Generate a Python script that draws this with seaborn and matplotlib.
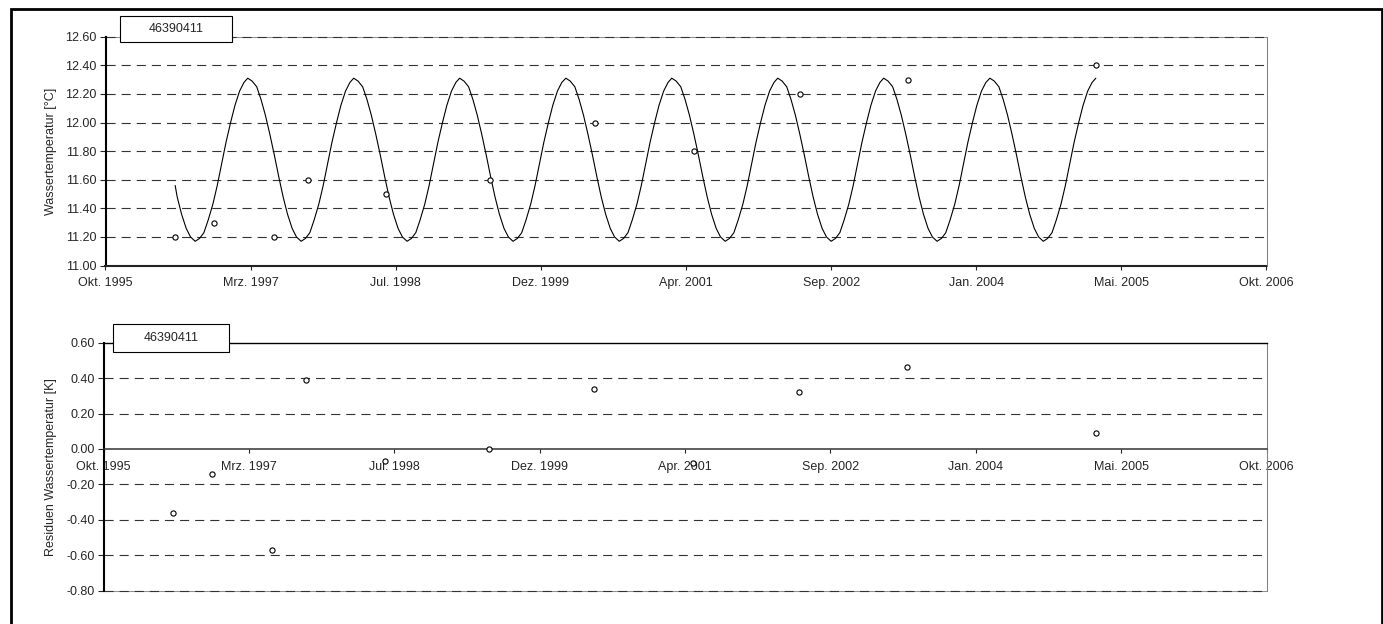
import numpy as np
import pandas as pd
import matplotlib
matplotlib.use("Agg")
import matplotlib.pyplot as plt
from matplotlib.patches import Rectangle
import seaborn as sns

# --- data ------------------------------------------------------------------
station = "46390411"

obs_dates = pd.to_datetime([
    "1996-06-24", "1996-11-04", "1997-05-31", "1997-09-25", "1998-06-21",
    "1999-06-15", "2000-06-09", "2001-05-16", "2002-05-16", "2003-05-23",
    "2005-03-01",
])
obs_temp = [11.20, 11.30, 11.20, 11.60, 11.50, 11.60, 12.00, 11.80, 12.20, 12.30, 12.40]
residuals = [-0.36, -0.14, -0.57, 0.39, -0.07, 0.00, 0.34, -0.08, 0.32, 0.46, 0.09]

# fitted annual curve: first measurement date, then 1st and 16th of each month
fit_dates = pd.DatetimeIndex([pd.Timestamp("1996-06-24")]).append(
    pd.date_range("1996-07-01", "2005-03-01", freq="SMS-16"))
fit_temp = [
    11.56,
    11.48, 11.36, 11.26, 11.20, 11.17, 11.19, 11.23, 11.32, 11.43, 11.56, 11.71, 11.86,  # Jul-Dec 1996
    12.00, 12.12, 12.22, 12.28, 12.31, 12.29, 12.25, 12.16, 12.05, 11.92, 11.77, 11.62,  # Jan-Jun 1997
    11.48, 11.36, 11.26, 11.20, 11.17, 11.19, 11.23, 11.32, 11.43, 11.56, 11.71, 11.86,
    12.00, 12.12, 12.22, 12.28, 12.31, 12.29, 12.25, 12.16, 12.05, 11.92, 11.77, 11.62,  # 1998
    11.48, 11.36, 11.26, 11.20, 11.17, 11.19, 11.23, 11.32, 11.43, 11.56, 11.71, 11.86,
    12.00, 12.12, 12.22, 12.28, 12.31, 12.29, 12.25, 12.16, 12.05, 11.92, 11.77, 11.62,  # 1999
    11.48, 11.36, 11.26, 11.20, 11.17, 11.19, 11.23, 11.32, 11.43, 11.56, 11.71, 11.86,
    12.00, 12.12, 12.22, 12.28, 12.31, 12.29, 12.25, 12.16, 12.05, 11.92, 11.77, 11.62,  # 2000
    11.48, 11.36, 11.26, 11.20, 11.17, 11.19, 11.23, 11.32, 11.43, 11.56, 11.71, 11.86,
    12.00, 12.12, 12.22, 12.28, 12.31, 12.29, 12.25, 12.16, 12.05, 11.92, 11.77, 11.62,  # 2001
    11.48, 11.36, 11.26, 11.20, 11.17, 11.19, 11.23, 11.32, 11.43, 11.56, 11.71, 11.86,
    12.00, 12.12, 12.22, 12.28, 12.31, 12.29, 12.25, 12.16, 12.05, 11.92, 11.77, 11.62,  # 2002
    11.48, 11.36, 11.26, 11.20, 11.17, 11.19, 11.23, 11.32, 11.43, 11.56, 11.71, 11.86,
    12.00, 12.12, 12.22, 12.28, 12.31, 12.29, 12.25, 12.16, 12.05, 11.92, 11.77, 11.62,  # 2003
    11.48, 11.36, 11.26, 11.20, 11.17, 11.19, 11.23, 11.32, 11.43, 11.56, 11.71, 11.86,
    12.00, 12.12, 12.22, 12.28, 12.31, 12.29, 12.25, 12.16, 12.05, 11.92, 11.77, 11.62,  # 2004
    11.48, 11.36, 11.26, 11.20, 11.17, 11.19, 11.23, 11.32, 11.43, 11.56, 11.71, 11.86,
    12.00, 12.12, 12.22, 12.28, 12.31,                                                   # Jan-Mar 2005
]

tick_dates = pd.to_datetime([
    "1995-10-28", "1997-03-11", "1998-07-24", "1999-12-06", "2001-04-19",
    "2002-09-01", "2004-01-14", "2005-05-28", "2006-10-10",
])
tick_labels = ["Okt. 1995", "Mrz. 1997", "Jul. 1998", "Dez. 1999", "Apr. 2001",
               "Sep. 2002", "Jan. 2004", "Mai. 2005", "Okt. 2006"]
temp_ticks = [11.00, 11.20, 11.40, 11.60, 11.80, 12.00, 12.20, 12.40, 12.60]
resid_ticks = [-0.80, -0.60, -0.40, -0.20, 0.00, 0.20, 0.40, 0.60]

# --- style -------------------------------------------------------------------
sns.set_style("white")
plt.rcParams["font.family"] = ["Liberation Sans", "DejaVu Sans"]
plt.rcParams["font.size"] = 9

W, H = 1383, 624
fig = plt.figure(figsize=(W / 100, H / 100), dpi=100)


def box(l, t, r, b):
    return [l / W, 1 - b / H, (r - l) / W, (b - t) / H]


ax1 = fig.add_axes(box(105.5, 36.7, 1266.5, 265.6))
ax2 = fig.add_axes(box(103.5, 342.7, 1266.5, 590.7))

GRID = dict(color="#333333", lw=0.8, linestyle=(0, (8.2, 5.4)), zorder=1.5, clip_on=False)


def style_axes(ax, ticks, lo, hi):
    ax.set_xlim(tick_dates[0], tick_dates[-1])
    ax.set_xticks(tick_dates)
    ax.set_xticklabels(tick_labels, fontsize=9)
    ax.set_ylim(lo, hi)
    ax.set_yticks(ticks)
    ax.set_yticklabels([f"{v:.2f}" for v in ticks], fontsize=9)
    ax.tick_params(axis="y", direction="out", length=4.3, width=0.8, pad=2, left=True)
    ax.tick_params(axis="x", direction="out", length=3, width=0.8, pad=5, bottom=True)
    ax.spines["left"].set_color("black")
    ax.spines["left"].set_linewidth(1.5)
    ax.spines["right"].set_color("#808080")
    ax.spines["right"].set_linewidth(0.75)
    ax.set_xlabel("")


# --- top: water temperature --------------------------------------------------
sns.lineplot(x=fit_dates, y=fit_temp, color="black", lw=0.8, ax=ax1, zorder=2)
sns.scatterplot(x=obs_dates, y=obs_temp, marker="o", s=14, facecolor="white",
                edgecolor="black", linewidth=0.8, ax=ax1, zorder=3)
style_axes(ax1, temp_ticks, 11.0, 12.6)
ax1.spines["top"].set_visible(False)
ax1.axhline(12.6, color="#909090", lw=0.75, zorder=1.2, clip_on=False)
for v in temp_ticks[1:]:
    ax1.axhline(v, **GRID)
ax1.spines["bottom"].set_color("#222222")
ax1.spines["bottom"].set_linewidth(1.5)
ax1.set_ylabel("Wassertemperatur [°C]", fontsize=9)
ax1.yaxis.set_label_coords((57 - 105.5) / 1161, 0.5)

# --- bottom: residuals ---------------------------------------------------------
sns.scatterplot(x=obs_dates, y=residuals, marker="o", s=14, facecolor="white",
                edgecolor="black", linewidth=0.8, ax=ax2, zorder=3)
style_axes(ax2, resid_ticks, -0.8, 0.6)
ax2.spines["bottom"].set_position(("data", 0))
ax2.spines["bottom"].set_color("#333333")
ax2.spines["bottom"].set_linewidth(1.1)
ax2.spines["top"].set_color("black")
ax2.spines["top"].set_linewidth(1.0)
ax2.axhline(-0.8, color="#909090", lw=0.75, zorder=1.2, clip_on=False)
for v in resid_ticks:
    if v not in (0.0, 0.6):
        ax2.axhline(v, **GRID)
ax2.tick_params(axis="x", pad=6)
ax2.set_ylabel("Residuen Wassertemperatur [K]", fontsize=9)
ax2.yaxis.set_label_coords((57 - 103.5) / 1163, 0.5)

# --- station boxes ---------------------------------------------------------------
for (l, t, r, b) in [(120, 16, 231.5, 42.3), (113.3, 324.3, 229.3, 352.3)]:
    fig.add_artist(Rectangle((l / W, 1 - b / H), (r - l) / W, (b - t) / H,
                             transform=fig.transFigure, facecolor="white",
                             edgecolor="black", lw=0.8, zorder=10))
    fig.text((l + r) / 2 / W, 1 - (t + b) / 2 / H, station, ha="center",
             va="center", fontsize=9, zorder=11)

# outer frame (bottom edge runs off the image)
fig.add_artist(Rectangle((10.5 / W, -0.1), (1381.5 - 10.5) / W, 1 - 8.7 / H + 0.1,
                         transform=fig.transFigure, fill=False, edgecolor="black",
                         lw=2.0, zorder=12))

fig.savefig("out.png", dpi=100, facecolor="white")
